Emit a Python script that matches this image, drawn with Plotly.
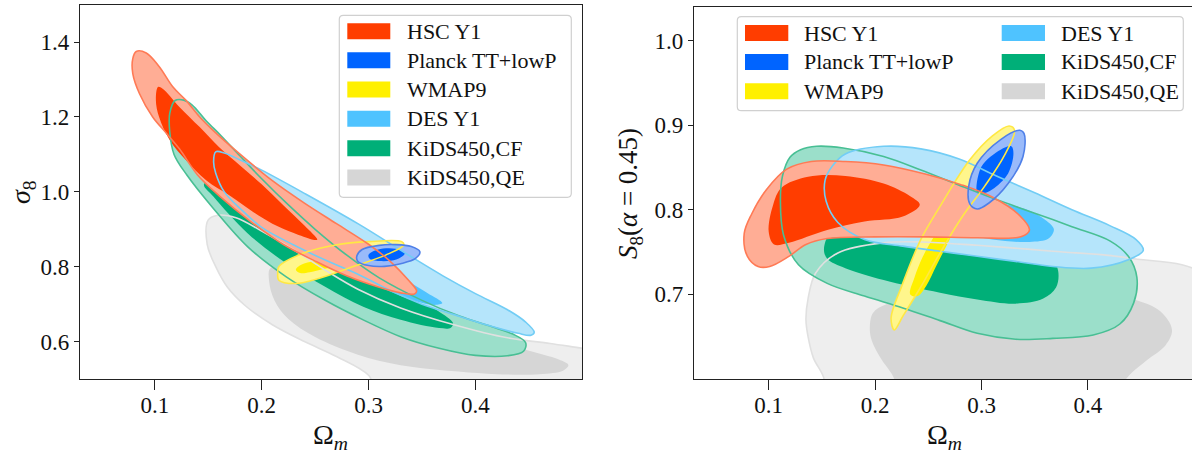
import plotly.graph_objects as go

W, H = 1192, 456

# ---- datasets (draw order: back to front) ----
DATASETS = ["KiDS450,QE", "KiDS450,CF", "DES Y1", "WMAP9", "HSC Y1", "Planck TT+lowP"]
LEGEND_ORDER = ["HSC Y1", "Planck TT+lowP", "WMAP9", "DES Y1", "KiDS450,CF", "KiDS450,QE"]

INNER_COLOR = {"HSC Y1": "#FF3D00", "Planck TT+lowP": "#0064FF", "WMAP9": "#FFF000",
               "DES Y1": "#4FC3FF", "KiDS450,CF": "#00AF78", "KiDS450,QE": "#D6D6D6"}
OUTER_COLOR = {"HSC Y1": "#FFAD95", "Planck TT+lowP": "#99BAFA", "WMAP9": "#FFF68C",
               "DES Y1": "#B5E5FB", "KiDS450,CF": "#9BDFCA", "KiDS450,QE": "#EEEEEE"}
EDGE_COLOR = {"HSC Y1": "#FF7A55", "Planck TT+lowP": "#4F80E8", "WMAP9": "#FFE844",
              "DES Y1": "#72CDF5", "KiDS450,CF": "#48BF94", "KiDS450,QE": "#E0E0E0"}

# ---- (Omega_m, sigma_8) contours: 95% outer, 68% inner ----
qe_sigma8_95 = [(0.150, 0.925), (0.158, 0.937), (0.176, 0.931), (0.20, 0.895), (0.23, 0.845),
                (0.26, 0.79), (0.29, 0.74), (0.33, 0.69), (0.38, 0.645), (0.43, 0.61),
                (0.47, 0.595), (0.50, 0.582), (0.53, 0.57), (0.53, 0.46), (0.31, 0.46),
                (0.30, 0.51), (0.27, 0.56), (0.24, 0.60), (0.21, 0.645), (0.185, 0.695),
                (0.168, 0.745), (0.157, 0.80), (0.149, 0.86)]
qe_sigma8_68 = [(0.208, 0.796), (0.22, 0.80), (0.25, 0.78), (0.29, 0.74), (0.33, 0.695),
                (0.37, 0.655), (0.41, 0.615), (0.447, 0.578), (0.478, 0.552), (0.487, 0.537),
                (0.482, 0.522), (0.46, 0.513), (0.42, 0.513), (0.384, 0.52), (0.33, 0.537),
                (0.29, 0.565), (0.25, 0.612), (0.225, 0.66), (0.212, 0.71), (0.207, 0.76)]
cf_sigma8_95 = [(0.119, 1.244), (0.127, 1.245), (0.135, 1.232), (0.148, 1.19), (0.162, 1.15),
                (0.18, 1.095), (0.20, 1.035), (0.225, 0.965), (0.25, 0.90), (0.28, 0.83),
                (0.31, 0.77), (0.35, 0.71), (0.385, 0.668), (0.415, 0.64), (0.435, 0.62),
                (0.447, 0.597), (0.445, 0.574), (0.43, 0.562), (0.40, 0.563), (0.366, 0.582),
                (0.33, 0.613), (0.295, 0.658), (0.259, 0.711), (0.223, 0.773), (0.187, 0.853),
                (0.155, 0.955), (0.13, 1.045), (0.118, 1.10), (0.114, 1.16), (0.114, 1.21)]
cf_sigma8_68 = [(0.146, 1.02), (0.16, 1.04), (0.175, 1.0), (0.20, 0.935), (0.23, 0.872),
                (0.26, 0.828), (0.29, 0.788), (0.32, 0.75), (0.345, 0.716), (0.365, 0.682),
                (0.379, 0.65), (0.377, 0.637), (0.366, 0.636), (0.33, 0.658), (0.295, 0.693),
                (0.259, 0.747), (0.223, 0.809), (0.187, 0.889), (0.155, 0.987)]
des_sigma8_95 = [(0.157, 1.107), (0.165, 1.104), (0.18, 1.085), (0.20, 1.058), (0.24, 0.996),
                 (0.29, 0.915), (0.338, 0.83), (0.37, 0.775), (0.40, 0.728), (0.43, 0.685),
                 (0.447, 0.652), (0.455, 0.625), (0.452, 0.617), (0.44, 0.622), (0.41, 0.645),
                 (0.38, 0.672), (0.35, 0.70), (0.32, 0.737), (0.29, 0.78), (0.26, 0.817),
                 (0.23, 0.858), (0.20, 0.905), (0.18, 0.955), (0.165, 1.0), (0.157, 1.05),
                 (0.155, 1.08)]
des_sigma8_68 = [(0.19, 1.0), (0.22, 0.95), (0.26, 0.885), (0.30, 0.82), (0.33, 0.772),
                 (0.355, 0.73), (0.369, 0.703), (0.362, 0.698), (0.345, 0.707), (0.315, 0.74),
                 (0.28, 0.785), (0.24, 0.845), (0.21, 0.90), (0.19, 0.95), (0.185, 0.985)]
wmap_sigma8_95 = [(0.215, 0.782), (0.216, 0.80), (0.238, 0.835), (0.269, 0.858), (0.30, 0.867),
                  (0.331, 0.867), (0.333, 0.858), (0.316, 0.831), (0.285, 0.80), (0.254, 0.769),
                  (0.232, 0.755), (0.216, 0.764)]
wmap_sigma8_68 = [(0.232, 0.792), (0.237, 0.805), (0.25, 0.815), (0.27, 0.825), (0.29, 0.833),
                  (0.305, 0.838), (0.31, 0.833), (0.298, 0.822), (0.28, 0.808), (0.26, 0.795),
                  (0.245, 0.785), (0.236, 0.783)]
hsc_sigma8_95 = [(0.0826, 1.375), (0.092, 1.371), (0.104, 1.335), (0.117, 1.28), (0.129, 1.245),
                 (0.142, 1.20), (0.155, 1.163), (0.18, 1.10), (0.21, 1.03), (0.24, 0.97),
                 (0.27, 0.915), (0.30, 0.86), (0.32, 0.815), (0.337, 0.765), (0.345, 0.735),
                 (0.343, 0.727), (0.33, 0.73), (0.31, 0.745), (0.28, 0.775), (0.25, 0.815),
                 (0.22, 0.86), (0.19, 0.92), (0.16, 0.99), (0.14, 1.045), (0.123, 1.115),
                 (0.111, 1.156), (0.098, 1.20), (0.0857, 1.262), (0.0794, 1.316), (0.0794, 1.356)]
hsc_sigma8_68 = [(0.103, 1.28), (0.107, 1.276), (0.123, 1.227), (0.142, 1.173), (0.16, 1.12),
                 (0.18, 1.07), (0.20, 1.02), (0.22, 0.965), (0.24, 0.91), (0.252, 0.872),
                 (0.247, 0.873), (0.23, 0.89), (0.21, 0.915), (0.19, 0.95), (0.17, 0.99),
                 (0.148, 1.031), (0.129, 1.085), (0.114, 1.138), (0.104, 1.20), (0.101, 1.245)]
planck_sigma8_95 = [(0.289, 0.828), (0.294, 0.846), (0.31, 0.857), (0.325, 0.859), (0.34, 0.854),
                    (0.348, 0.84), (0.344, 0.822), (0.33, 0.808), (0.315, 0.801), (0.30, 0.803),
                    (0.29, 0.814)]
planck_sigma8_68 = [(0.300, 0.832), (0.309, 0.846), (0.325, 0.848), (0.334, 0.836), (0.326, 0.819),
                    (0.31, 0.815), (0.301, 0.821)]

# ---- (Omega_m, S_8(alpha=0.45)) contours ----
qe_s8_95 = [(0.135, 0.67), (0.137, 0.695), (0.144, 0.725), (0.165, 0.749), (0.208, 0.761),
            (0.243, 0.762), (0.296, 0.758), (0.367, 0.751), (0.438, 0.743), (0.51, 0.72),
            (0.51, 0.58), (0.15, 0.58), (0.152, 0.60), (0.142, 0.625), (0.137, 0.65)]
qe_s8_68 = [(0.195, 0.66), (0.198, 0.678), (0.21, 0.688), (0.24, 0.695), (0.30, 0.70),
            (0.36, 0.703), (0.41, 0.70), (0.443, 0.694), (0.468, 0.68), (0.479, 0.658),
            (0.473, 0.64), (0.455, 0.622), (0.44, 0.606), (0.43, 0.59), (0.425, 0.58),
            (0.22, 0.58), (0.218, 0.60), (0.205, 0.625), (0.197, 0.645)]
cf_s8_95 = [(0.113, 0.84), (0.12, 0.862), (0.13, 0.871), (0.145, 0.875), (0.17, 0.873),
            (0.208, 0.863), (0.243, 0.847), (0.279, 0.829), (0.314, 0.812), (0.35, 0.796),
            (0.385, 0.78), (0.421, 0.763), (0.438, 0.745), (0.446, 0.72), (0.443, 0.69),
            (0.43, 0.665), (0.405, 0.652), (0.367, 0.648), (0.332, 0.647), (0.296, 0.654),
            (0.261, 0.669), (0.226, 0.684), (0.19, 0.698), (0.155, 0.713), (0.128, 0.735),
            (0.114, 0.77), (0.111, 0.81)]
cf_s8_68 = [(0.152, 0.755), (0.16, 0.775), (0.20, 0.782), (0.25, 0.777), (0.30, 0.767),
            (0.35, 0.757), (0.365, 0.745), (0.372, 0.728), (0.37, 0.708), (0.358, 0.695),
            (0.332, 0.689), (0.296, 0.694), (0.261, 0.702), (0.208, 0.717), (0.172, 0.731),
            (0.155, 0.742)]
des_s8_95 = [(0.153, 0.835), (0.16, 0.852), (0.172, 0.866), (0.208, 0.875), (0.243, 0.872),
             (0.279, 0.86), (0.314, 0.84), (0.35, 0.82), (0.385, 0.80), (0.421, 0.781),
             (0.445, 0.765), (0.452, 0.752), (0.438, 0.741), (0.403, 0.731), (0.367, 0.733),
             (0.332, 0.739), (0.296, 0.745), (0.261, 0.751), (0.226, 0.757), (0.19, 0.765),
             (0.165, 0.785), (0.154, 0.81)]
des_s8_68 = [(0.19, 0.835), (0.21, 0.845), (0.227, 0.848), (0.25, 0.838), (0.28, 0.822),
             (0.31, 0.81), (0.343, 0.80), (0.36, 0.788), (0.368, 0.777), (0.363, 0.766),
             (0.345, 0.762), (0.31, 0.765), (0.27, 0.775), (0.23, 0.79), (0.20, 0.805),
             (0.185, 0.82)]
wmap_s8_95 = [(0.218, 0.658), (0.215, 0.672), (0.226, 0.713), (0.243, 0.765), (0.261, 0.804),
              (0.289, 0.859), (0.31, 0.887), (0.326, 0.899), (0.331, 0.894), (0.321, 0.863),
              (0.303, 0.828), (0.282, 0.792), (0.261, 0.749), (0.243, 0.709), (0.226, 0.674)]
wmap_s8_68 = [(0.233, 0.70), (0.237, 0.72), (0.245, 0.745), (0.256, 0.77), (0.268, 0.795),
              (0.28, 0.815), (0.286, 0.812), (0.28, 0.79), (0.27, 0.765), (0.258, 0.735),
              (0.248, 0.71), (0.24, 0.698)]
hsc_s8_95 = [(0.077, 0.772), (0.084, 0.795), (0.098, 0.824), (0.117, 0.848), (0.14, 0.857),
             (0.172, 0.857), (0.208, 0.853), (0.248, 0.842), (0.28, 0.83), (0.31, 0.815),
             (0.336, 0.793), (0.345, 0.776), (0.337, 0.768), (0.296, 0.767), (0.25, 0.768),
             (0.20, 0.768), (0.155, 0.766), (0.135, 0.759), (0.119, 0.745), (0.101, 0.733),
             (0.09, 0.733), (0.08, 0.745)]
hsc_s8_68 = [(0.10, 0.774), (0.104, 0.805), (0.112, 0.826), (0.137, 0.839), (0.172, 0.84),
             (0.208, 0.831), (0.233, 0.816), (0.242, 0.806), (0.226, 0.792), (0.19, 0.786),
             (0.155, 0.776), (0.119, 0.761), (0.105, 0.759)]
planck_s8_95 = [(0.289, 0.807), (0.288, 0.828), (0.296, 0.855), (0.318, 0.883), (0.336, 0.894),
                (0.34, 0.89), (0.339, 0.863), (0.325, 0.831), (0.307, 0.808), (0.296, 0.801)]
planck_s8_68 = [(0.296, 0.82), (0.30, 0.851), (0.318, 0.871), (0.328, 0.875), (0.33, 0.867),
                (0.325, 0.843), (0.31, 0.824), (0.30, 0.819)]

PANELS = [
    ("x", "y", {"KiDS450,QE": (qe_sigma8_95, qe_sigma8_68), "KiDS450,CF": (cf_sigma8_95, cf_sigma8_68),
                "DES Y1": (des_sigma8_95, des_sigma8_68), "WMAP9": (wmap_sigma8_95, wmap_sigma8_68),
                "HSC Y1": (hsc_sigma8_95, hsc_sigma8_68), "Planck TT+lowP": (planck_sigma8_95, planck_sigma8_68)}),
    ("x2", "y2", {"KiDS450,QE": (qe_s8_95, qe_s8_68), "KiDS450,CF": (cf_s8_95, cf_s8_68),
                  "DES Y1": (des_s8_95, des_s8_68), "WMAP9": (wmap_s8_95, wmap_s8_68),
                  "HSC Y1": (hsc_s8_95, hsc_s8_68), "Planck TT+lowP": (planck_s8_95, planck_s8_68)}),
]

X_TICKS = [0.1, 0.2, 0.3, 0.4]
SIGMA8_TICKS = [0.6, 0.8, 1.0, 1.2, 1.4]
S8_TICKS = [0.7, 0.8, 0.9, 1.0]

FONT = "Liberation Serif"


def closed(pts):
    xs = [p[0] for p in pts] + [pts[0][0]]
    ys = [p[1] for p in pts] + [pts[0][1]]
    return xs, ys


fig = go.Figure()

for xa, ya, contours in PANELS:
    # filled regions
    for name in DATASETS:
        outer, inner = contours[name]
        for pts, col in ((outer, OUTER_COLOR[name]), (inner, INNER_COLOR[name])):
            xs, ys = closed(pts)
            fig.add_trace(go.Scatter(x=xs, y=ys, mode="lines", fill="toself", fillcolor=col,
                                     line=dict(width=0, shape="spline", smoothing=1.0),
                                     hoverinfo="skip", showlegend=False, xaxis=xa, yaxis=ya))
    # outlines of the 95% regions on top
    for name in DATASETS:
        xs, ys = closed(contours[name][0])
        fig.add_trace(go.Scatter(x=xs, y=ys, mode="lines",
                                 line=dict(width=1.6, color=EDGE_COLOR[name], shape="spline", smoothing=1.0),
                                 hoverinfo="skip", showlegend=False, xaxis=xa, yaxis=ya))


def px(x):
    return x / W


def py(y):
    return 1 - y / H


axis_common = dict(showgrid=False, zeroline=False, showline=True, linecolor="#222222", linewidth=1.3,
                   ticks="outside", tickwidth=1.1, tickcolor="#222222",
                   tickfont=dict(family=FONT, size=23, color="#111111"))

fig.update_layout(
    width=W, height=H, margin=dict(l=0, r=0, t=0, b=0),
    paper_bgcolor="white", plot_bgcolor="white", showlegend=False,
    xaxis=dict(domain=[px(80), px(582.3)], range=[0.03, 0.5], anchor="y", mirror=True,
               tickvals=X_TICKS, ticktext=[f"{v:.1f}" for v in X_TICKS], ticklen=10,
               ticklabelstandoff=-5, **axis_common),
    yaxis=dict(domain=[py(379), py(4.7)], range=[0.5, 1.5], anchor="x", mirror=True,
               tickvals=SIGMA8_TICKS, ticktext=[f"{v:.1f}" for v in SIGMA8_TICKS], ticklen=5, **axis_common),
    xaxis2=dict(domain=[px(694), 1.0], range=[0.0298, 0.4978], anchor="y2", mirror=True,
                tickvals=X_TICKS, ticktext=[f"{v:.1f}" for v in X_TICKS], ticklen=10,
                ticklabelstandoff=-5, **axis_common),
    yaxis2=dict(domain=[py(379), py(6.7)], range=[0.6, 1.04], anchor="x2", mirror=False,
                tickvals=S8_TICKS, ticktext=[f"{v:.1f}" for v in S8_TICKS], ticklen=5, **axis_common),
)

annotations = []
shapes = []

# axis titles
title_font = dict(family=FONT, size=28, color="#111111")
annotations.append(dict(text="Ω<sub><i>m</i></sub>", x=px(331), y=py(436), xref="paper", yref="paper",
                        showarrow=False, font=title_font, xanchor="center", yanchor="middle"))
annotations.append(dict(text="Ω<sub><i>m</i></sub>", x=px(944), y=py(436), xref="paper", yref="paper",
                        showarrow=False, font=title_font, xanchor="center", yanchor="middle"))
annotations.append(dict(text="<i>σ</i><sub>8</sub>", x=px(22), y=py(192), xref="paper", yref="paper",
                        showarrow=False, font=title_font, textangle=-90, xanchor="center", yanchor="middle"))
annotations.append(dict(text="<i>S</i><sub>8</sub>(<i>α</i> = 0.45)", x=px(630), y=py(194),
                        xref="paper", yref="paper", showarrow=False, font=dict(family=FONT, size=27, color="#111111"),
                        textangle=-90, xanchor="center", yanchor="middle"))


def rounded_box(x0, y0, x1, y1, r=4):
    # pixel coordinates -> paper path with rounded corners
    def P(x, y):
        return f"{px(x):.5f},{py(y):.5f}"
    return (f"M {P(x0 + r, y0)} L {P(x1 - r, y0)} Q {P(x1, y0)} {P(x1, y0 + r)} "
            f"L {P(x1, y1 - r)} Q {P(x1, y1)} {P(x1 - r, y1)} L {P(x0 + r, y1)} "
            f"Q {P(x0, y1)} {P(x0, y1 - r)} L {P(x0, y0 + r)} Q {P(x0, y0)} {P(x0 + r, y0)} Z")


legend_font = dict(family=FONT, size=22, color="#111111")


def add_legend(box, entries):
    shapes.append(dict(type="path", path=rounded_box(*box), xref="paper", yref="paper",
                       line=dict(color="#D0D0D0", width=1.2), fillcolor="rgba(255,255,255,0.85)"))
    for name, patch_x0, patch_x1, text_x, yc in entries:
        shapes.append(dict(type="rect", xref="paper", yref="paper", x0=px(patch_x0), x1=px(patch_x1),
                           y0=py(yc + 8), y1=py(yc - 8), fillcolor=INNER_COLOR[name], line=dict(width=0)))
        annotations.append(dict(text=name, x=px(text_x), y=py(yc), xref="paper", yref="paper",
                                showarrow=False, font=legend_font, xanchor="left", yanchor="middle"))


left_rows = [31.2, 60.3, 89.5, 118.8, 148.2, 177.5]
add_legend((339.3, 15.3, 571.3, 197.3),
           [(n, 347.3, 390.3, 405.0, yc) for n, yc in zip(LEGEND_ORDER, left_rows)])

right_rows = [33.0, 62.0, 91.2]
right_entries = []
for i, n in enumerate(LEGEND_ORDER):
    col, row = divmod(i, 3)
    if col == 0:
        right_entries.append((n, 745.0, 788.3, 802.0, right_rows[row]))
    else:
        right_entries.append((n, 1001.7, 1045.0, 1058.5, right_rows[row]))
add_legend((737.3, 16.7, 1183.3, 110.7), right_entries)

fig.update_layout(annotations=annotations, shapes=shapes)

fig.write_html("out.html")
